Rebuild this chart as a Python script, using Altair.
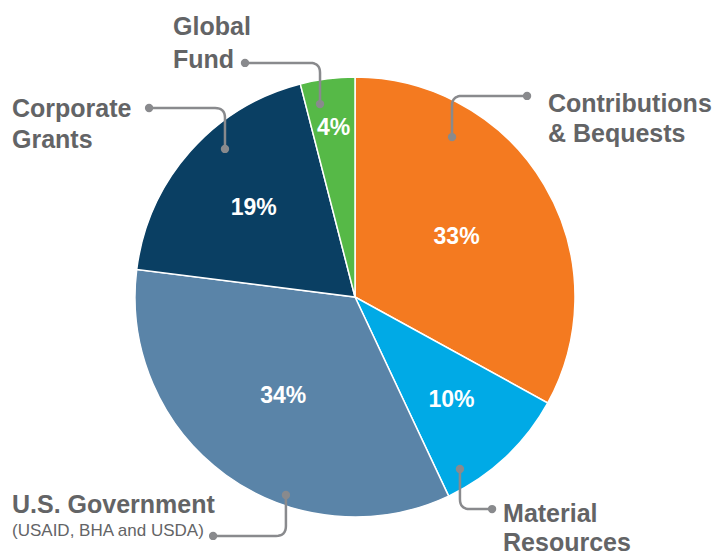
import altair as alt
import pandas as pd

# ---- data ----
categories = ["Contributions & Bequests", "Material Resources", "U.S. Government",
              "Corporate Grants", "Global Fund"]
shares = [33, 10, 34, 19, 4]
pct_labels = ["33%", "10%", "34%", "19%", "4%"]
colors = ["#F47A20", "#00AAE6", "#5A84A8", "#0A3F63", "#56B947"]
label_radius = [118, 141, 122, 135, 170]   # px from centre for the % labels

# leader lines in pie units (radius = 1, centre = 0,0): start dot, corner, end dot
leader_pts = {
    "Contributions & Bequests": [(0.441, 0.727), (0.441, 0.914), (0.782, 0.914)],
    "Material Resources": [(0.477, -0.782), (0.477, -0.964), (0.623, -0.964)],
    "U.S. Government": [(-0.314, -0.900), (-0.314, -1.086), (-0.645, -1.086)],
    "Corporate Grants": [(-0.591, 0.673), (-0.591, 0.859), (-0.936, 0.859)],
    "Global Fund": [(-0.159, 0.877), (-0.159, 1.064), (-0.500, 1.064)],
}

# outside label lines (text, x, y baseline) in pie units
label_text = ["Contributions", "& Bequests", "Material", "Resources", "U.S. Government",
              "Corporate", "Grants", "Global", "Fund"]
label_x = [0.877, 0.877, 0.673, 0.673, -1.559, -1.559, -1.559, -0.827, -0.827]
label_y = [0.841, 0.705, -1.023, -1.155, -0.982, 0.818, 0.677, 1.191, 1.041]
sub_text = ["(USAID, BHA and USDA)"]
sub_x = [-1.559]
sub_y = [-1.086]

# ---- layout ----
W, H = 715, 557
R = 220
CX, CY = 355, 297
FONT = "Liberation Sans, Arial, sans-serif"
TEXT_GRAY = "#636466"
LINE_GRAY = "#898A8D"

xscale = alt.Scale(domain=[-CX / R, (W - CX) / R], nice=False, zero=False)
yscale = alt.Scale(domain=[-(H - CY) / R, CY / R], nice=False, zero=False)

pie_df = pd.DataFrame({
    "category": categories, "share": shares, "pct": pct_labels,
    "order": list(range(len(categories))), "lr": label_radius,
})


def rounded(a, k, e, r=0.045, n=8):
    dx1, dy1 = k[0] - a[0], k[1] - a[1]
    l1 = (dx1 ** 2 + dy1 ** 2) ** 0.5
    dx2, dy2 = e[0] - k[0], e[1] - k[1]
    l2 = (dx2 ** 2 + dy2 ** 2) ** 0.5
    p1 = (k[0] - dx1 / l1 * r, k[1] - dy1 / l1 * r)
    p2 = (k[0] + dx2 / l2 * r, k[1] + dy2 / l2 * r)
    pts = [a]
    for i in range(n + 1):
        t = i / n
        pts.append(((1 - t) ** 2 * p1[0] + 2 * (1 - t) * t * k[0] + t ** 2 * p2[0],
                    (1 - t) ** 2 * p1[1] + 2 * (1 - t) * t * k[1] + t ** 2 * p2[1]))
    pts.append(e)
    return pts


line_rows, dot_rows = [], []
for name, (a, k, e) in leader_pts.items():
    for i, (x, y) in enumerate(rounded(a, k, e)):
        line_rows.append({"g": name, "s": i, "x": x, "y": y})
    dot_rows.append({"x": a[0], "y": a[1]})
    dot_rows.append({"x": e[0], "y": e[1]})
line_df = pd.DataFrame(line_rows)
dot_df = pd.DataFrame(dot_rows)

lab_df = pd.DataFrame({"t": label_text, "x": label_x, "y": label_y})
sub_df = pd.DataFrame({"t": sub_text, "x": sub_x, "y": sub_y})

cx = alt.X(datum=0, type="quantitative", scale=xscale, axis=None)
cy = alt.Y(datum=0, type="quantitative", scale=yscale, axis=None)
px = alt.X("x:Q", scale=xscale, axis=None)
py = alt.Y("y:Q", scale=yscale, axis=None)

pie = alt.Chart(pie_df).mark_arc(outerRadius=R, stroke="white", strokeWidth=1.5).encode(
    x=cx, y=cy,
    theta=alt.Theta("share:Q", stack=True),
    order=alt.Order("order:Q"),
    color=alt.Color("category:N", scale=alt.Scale(domain=categories, range=colors), legend=None),
)

# percentage labels: slice mid-angles from the cumulative shares
pct = alt.Chart(pie_df).transform_window(
    cum="sum(share)", sort=[alt.SortField("order", order="ascending")], frame=[None, 0]
).transform_joinaggregate(
    total="sum(share)"
).transform_calculate(
    mid="(datum.cum - datum.share / 2) / datum.total * 2 * PI",
).transform_calculate(
    x=f"datum.lr / {R} * sin(datum.mid)",
    y=f"datum.lr / {R} * cos(datum.mid)",
).mark_text(font=FONT, fontSize=23, fontWeight="bold", color="white",
            align="center", baseline="middle").encode(
    x=px, y=py, text="pct:N",
)

lines = alt.Chart(line_df).mark_line(color=LINE_GRAY, strokeWidth=2.5, strokeCap="round",
                                     strokeJoin="round").encode(
    x=px, y=py, detail="g:N", order="s:Q",
)

dots = alt.Chart(dot_df).mark_circle(color=LINE_GRAY, size=70, opacity=1).encode(x=px, y=py)

labels = alt.Chart(lab_df).mark_text(font=FONT, fontSize=25, fontWeight="bold", color=TEXT_GRAY,
                                     align="left", baseline="alphabetic").encode(
    x=px, y=py, text="t:N",
)

sub = alt.Chart(sub_df).mark_text(font=FONT, fontSize=17, fontWeight="normal", color=TEXT_GRAY,
                                  align="left", baseline="alphabetic").encode(
    x=px, y=py, text="t:N",
)

chart = alt.layer(pie, pct, lines, dots, labels, sub).properties(
    width=W, height=H, padding=0, autosize=alt.AutoSizeParams(type="none"),
    background="white",
).configure_view(stroke=None)

chart.save("out.html", embed_options={"renderer": "svg", "actions": False})
